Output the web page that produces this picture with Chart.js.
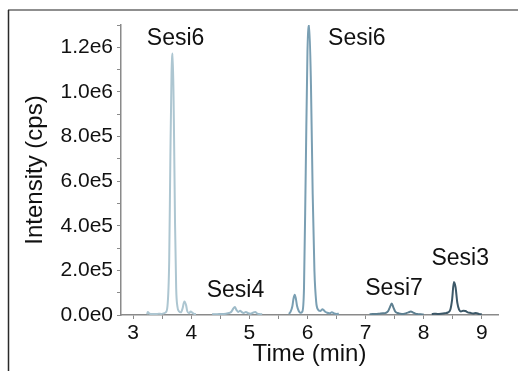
<!DOCTYPE html>
<html>
<head>
<meta charset="utf-8">
<script src="https://cdn.jsdelivr.net/npm/chart.js@4/dist/chart.umd.min.js"></script>
<style>
  html, body { margin: 0; padding: 0; background: #fff; }
  canvas { display: block; }
</style>
</head>
<body>
<canvas id="chart1" width="518" height="371"></canvas>
<script>
// chromatogram traces, time in min / intensity in cps
let time1 = [3.24, 3.25, 3.28, 3.32, 3.36, 3.40, 3.44, 3.48, 3.52, 3.56, 3.59, 3.62, 3.64, 3.66, 3.68, 3.70, 3.72, 3.74, 3.76, 3.79, 3.82, 3.85, 3.88, 3.91, 3.93, 3.96, 3.99, 4.02, 4.05, 4.08]
let int1 = [3e3, 1.4e4, 6e3, 4e3, 5e3, 4e3, 6e3, 5e3, 7e3, 1.2e4, 4e4, 2.5e5, 7.2e5, 1.1e6, 1.19e6, 8.9e5, 4.2e5, 1.2e5, 4e4, 1.6e4, 1.2e4, 3e4, 6.2e4, 4.5e4, 1.8e4, 8e3, 1.6e4, 1e4, 5e3, 4e3]

let time2 = [4.36, 4.42, 4.48, 4.54, 4.60, 4.65, 4.69, 4.72, 4.75, 4.78, 4.81, 4.84, 4.87, 4.90, 4.94, 4.98, 5.02, 5.06, 5.10, 5.14, 5.18, 5.22]
let int2 = [4e3, 3e3, 5e3, 4e3, 6e3, 9e3, 1.5e4, 2.8e4, 3.6e4, 2.2e4, 1.4e4, 1.9e4, 1.3e4, 9e3, 1.4e4, 8e3, 6e3, 1e4, 1.4e4, 6e3, 4e3, 3e3]

let time3 = [5.68, 5.71, 5.74, 5.76, 5.78, 5.80, 5.82, 5.85, 5.88, 5.91, 5.94, 5.97, 6.00, 6.03, 6.06, 6.09, 6.12, 6.15, 6.18, 6.22, 6.26, 6.30, 6.34, 6.38, 6.42, 6.46, 6.50, 6.54]
let int3 = [5e3, 1.5e4, 4e4, 7.5e4, 9.2e4, 7.5e4, 4.2e4, 1.8e4, 1e4, 1.5e4, 1.2e5, 6.5e5, 1.2e6, 1.32e6, 1.05e6, 5.5e5, 2e5, 6e4, 2.5e4, 1.8e4, 2.6e4, 1.6e4, 1e4, 8e3, 1.2e4, 7e3, 5e3, 6e3]

let time4 = [7.07, 7.12, 7.18, 7.24, 7.30, 7.35, 7.39, 7.42, 7.45, 7.48, 7.51, 7.55, 7.60, 7.65, 7.70, 7.74, 7.78, 7.82, 7.86, 7.90, 7.95, 8.00]
let int4 = [3e3, 5e3, 4e3, 6e3, 8e3, 1e4, 1.8e4, 3.6e4, 5.2e4, 3.4e4, 1.6e4, 9e3, 6e3, 5e3, 8e3, 1.2e4, 1.6e4, 1.1e4, 6e3, 4e3, 3e3, 2e3]

let time5 = [8.14, 8.18, 8.24, 8.30, 8.36, 8.42, 8.46, 8.49, 8.52, 8.55, 8.58, 8.61, 8.64, 8.68, 8.72, 8.76, 8.80, 8.85, 8.90, 8.95, 9.00]
let int5 = [4e3, 6e3, 5e3, 6e3, 8e3, 1.2e4, 2.5e4, 7e4, 1.5e5, 1.25e5, 5.5e4, 2.4e4, 1.6e4, 1.9e4, 1.8e4, 1.2e4, 1e4, 7e3, 9e3, 5e3, 3e3]

// peak labels
let peakNames = ['Sesi6', 'Sesi4', 'Sesi6', 'Sesi7', 'Sesi3']
let peakTimes = [3.73, 4.76, 6.85, 7.49, 8.63]
let peakHeights = [1.227e6, 8.2e4, 1.227e6, 9e4, 2.27e5]

let traceColors = ['#adc6d1', '#9dbac8', '#7a9fb3', '#5d7f90', '#3c5868']

/* builds one dataset from a time array and an intensity array */
function makeTrace(times, ints, color) {
  let pts = []
  for (let i = 0; i < times.length; i++) {
    pts.push({x: times[i], y: ints[i]})
  }
  return {
    data: pts,
    showLine: true,
    borderColor: color,
    borderWidth: 2,
    pointRadius: 0,
    cubicInterpolationMode: 'monotone'
  }
}

const datasets = [
  makeTrace(time1, int1, traceColors[0]),
  makeTrace(time2, int2, traceColors[1]),
  makeTrace(time3, int3, traceColors[2]),
  makeTrace(time4, int4, traceColors[3]),
  makeTrace(time5, int5, traceColors[4])
]

const fontFam = '"Liberation Sans", Arial, sans-serif'

// frame lines and peak names
const extras = {
  id: 'extras',
  afterDatasetsDraw(chart) {
    const ctx = chart.ctx
    const xs = chart.scales.x, ys = chart.scales.y
    ctx.save()
    ctx.fillStyle = '#111'
    ctx.font = '23px ' + fontFam
    ctx.textAlign = 'center'
    ctx.textBaseline = 'alphabetic'
    for (let i = 0; i < peakNames.length; i++) {
      ctx.fillText(peakNames[i], xs.getPixelForValue(peakTimes[i]), ys.getPixelForValue(peakHeights[i]))
    }
    ctx.restore()
  },
  afterDraw(chart) {
    const ctx = chart.ctx
    ctx.save()
    ctx.strokeStyle = '#8f8f8f'
    ctx.lineWidth = 2
    ctx.beginPath()
    ctx.moveTo(8, 10)
    ctx.lineTo(518, 10)
    ctx.stroke()
    ctx.strokeStyle = '#2a2a2a'
    ctx.lineWidth = 1.5
    ctx.beginPath()
    ctx.moveTo(8.5, 10)
    ctx.lineTo(8.5, 371)
    ctx.stroke()
    ctx.restore()
  }
}

const config = {
  type: 'scatter',
  data: { datasets: datasets },
  options: {
    responsive: false,
    animation: false,
    layout: { padding: { left: 0, right: 20, top: 25, bottom: 0 } },
    plugins: { legend: { display: false }, tooltip: { enabled: false } },
    scales: {
      x: {
        type: 'linear',
        min: 2.79,
        max: 9.28,
        afterFit(scale) { scale.height = 56 },
        border: { color: '#8a8a8a', width: 1.5 },
        grid: { drawOnChartArea: false, drawTicks: true, tickLength: 4, color: '#8a8a8a' },
        ticks: {
          stepSize: 0.5,
          maxTicksLimit: 40,
          includeBounds: false,
          autoSkip: false,
          maxRotation: 0,
          padding: 2,
          color: '#111',
          font: { family: fontFam, size: 21 },
          callback: function(v) {
            return Math.abs(v - Math.round(v)) < 1e-6 ? String(Math.round(v)) : ''
          }
        },
        title: {
          display: true,
          text: 'Time (min)',
          color: '#111',
          font: { family: fontFam, size: 24 },
          padding: { top: 0, bottom: 2 }
        }
      },
      y: {
        min: 0,
        max: 1.32e6,
        afterFit(scale) { scale.width = 121 },
        border: { color: '#8a8a8a', width: 1.5 },
        grid: { drawOnChartArea: false, drawTicks: true, tickLength: 4, color: '#8a8a8a' },
        ticks: {
          stepSize: 1e5,
          maxTicksLimit: 40,
          includeBounds: false,
          autoSkip: false,
          padding: 4,
          color: '#111',
          font: { family: fontFam, size: 21 },
          callback: function(v) {
            let n = Math.round(v / 1e5)
            return n % 2 === 0 ? (n * 1e5).toExponential(1).replace('e+', 'e') : ''
          }
        },
        title: {
          display: true,
          text: 'Intensity (cps)',
          color: '#111',
          font: { family: fontFam, size: 24 },
          padding: { top: 21, bottom: 0 }
        }
      }
    }
  },
  plugins: [extras]
}

const myChart = new Chart(document.getElementById('chart1'), config)
</script>
</body>
</html>
